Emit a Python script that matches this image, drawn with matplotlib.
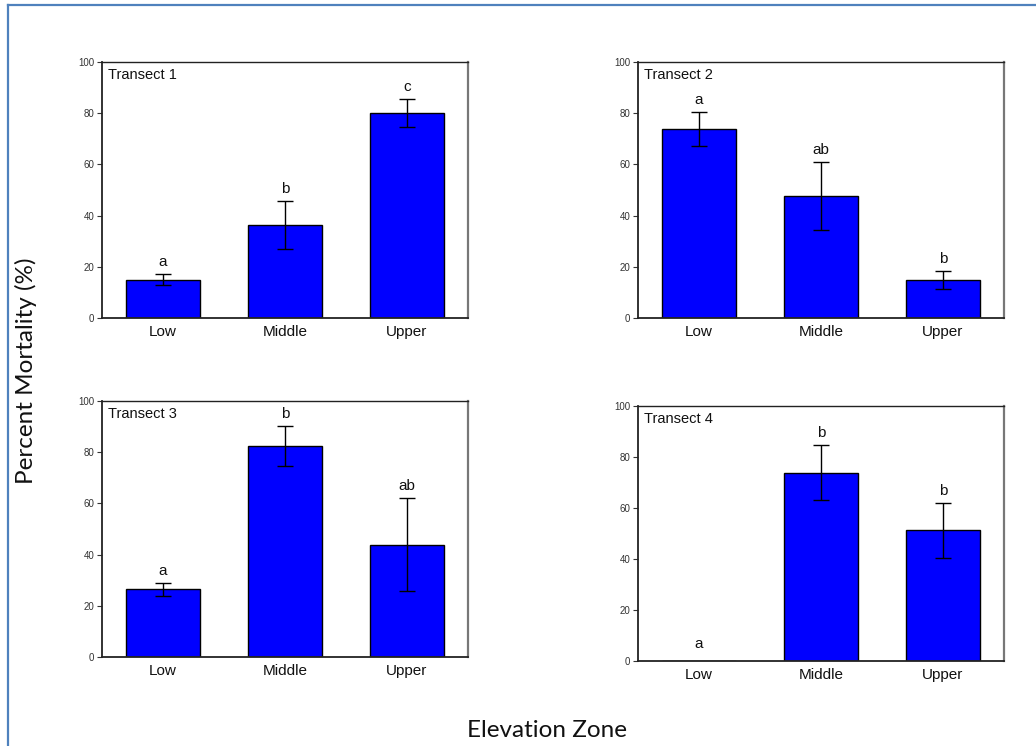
import matplotlib
matplotlib.use("Agg")
import matplotlib.pyplot as plt
from matplotlib.lines import Line2D

zones = ["Low", "Middle", "Upper"]
y_ticks = [0, 20, 40, 60, 80, 100]

t1_mean = [15.0, 36.3, 80.0]
t1_se = [2.0, 9.3, 5.5]
t1_letters = ["a", "b", "c"]

t2_mean = [73.8, 47.6, 15.0]
t2_se = [6.8, 13.2, 3.5]
t2_letters = ["a", "ab", "b"]

t3_mean = [26.4, 82.5, 43.9]
t3_se = [2.4, 7.7, 18.1]
t3_letters = ["a", "b", "ab"]

t4_mean = [0.0, 73.9, 51.2]
t4_se = [0.0, 10.8, 10.7]
t4_letters = ["a", "b", "b"]

titles = ["Transect 1", "Transect 2", "Transect 3", "Transect 4"]

W, H = 1036, 746
fig = plt.figure(figsize=(W / 100, H / 100), dpi=100)

# panel boxes in pixels: left, top, right, bottom
boxes = [(102, 62, 468, 318), (638, 62, 1004, 318),
         (102, 401, 468, 657), (638, 406, 1004, 661)]

panels = [(t1_mean, t1_se, t1_letters), (t2_mean, t2_se, t2_letters),
          (t3_mean, t3_se, t3_letters), (t4_mean, t4_se, t4_letters)]

sans = "Liberation Sans"

for (l, t, r, b), (mean, se, letters), title in zip(boxes, panels, titles):
    ax = fig.add_axes([l / W, (H - b) / H, (r - l) / W, (b - t) / H])
    x = list(range(len(zones)))
    ax.bar(x, mean, width=0.6, color="#0000FF", edgecolor="black",
           linewidth=1.0, zorder=2)
    for xi, m, s in zip(x, mean, se):
        if s > 0:
            ax.errorbar(xi, m, yerr=s, fmt="none", ecolor="black",
                        elinewidth=1.0, capsize=5.5, capthick=1.0, zorder=3)
    for xi, m, s, lab in zip(x, mean, se, letters):
        ax.text(xi, max(m + s + 2.0, 4.0), lab, ha="center", va="bottom",
                fontsize=11, family=sans, color="#111111")
    ax.set_xlim(-0.5, 2.5)
    ax.set_ylim(0, 100)
    ax.set_yticks(y_ticks)
    ax.set_xticks(x)
    ax.set_xticklabels(zones, fontsize=11, family=sans, color="#111111")
    ax.tick_params(axis="x", length=0, pad=5)
    ax.tick_params(axis="y", direction="out", length=3.5, width=0.8,
                   labelsize=7, colors="#333333", pad=2)
    for lb in ax.get_yticklabels():
        lb.set_family(sans)
    ax.spines["left"].set_linewidth(1.3)
    ax.spines["bottom"].set_linewidth(1.3)
    ax.spines["left"].set_color("#222222")
    ax.spines["bottom"].set_color("#222222")
    ax.spines["top"].set_linewidth(1.0)
    ax.spines["top"].set_color("#222222")
    ax.spines["right"].set_linewidth(1.6)
    ax.spines["right"].set_color("#777777")
    ax.text(6 / (r - l), 1 - 6 / (b - t), title, transform=ax.transAxes,
            ha="left", va="top", fontsize=10.5, family=sans, color="#111111")

fig.text(26 / W, (H - 371) / H, "Percent Mortality (%)", rotation=90,
         ha="center", va="center", fontsize=17.5, family="Lato",
         color="#111111")
fig.text(547 / W, (H - 737) / H, "Elevation Zone", ha="center",
         va="baseline", fontsize=17.5, family="Lato", color="#111111")

# frame lines along the left and top edges
frame_color = "#4F81BD"
fig.add_artist(Line2D([7.5 / W, 7.5 / W], [0, 1 - 5 / H],
                      transform=fig.transFigure, color=frame_color,
                      linewidth=1.6))
fig.add_artist(Line2D([7.5 / W, 1], [1 - 5 / H, 1 - 5 / H],
                      transform=fig.transFigure, color=frame_color,
                      linewidth=1.6))

fig.savefig("out.png", dpi=100, facecolor="white")
